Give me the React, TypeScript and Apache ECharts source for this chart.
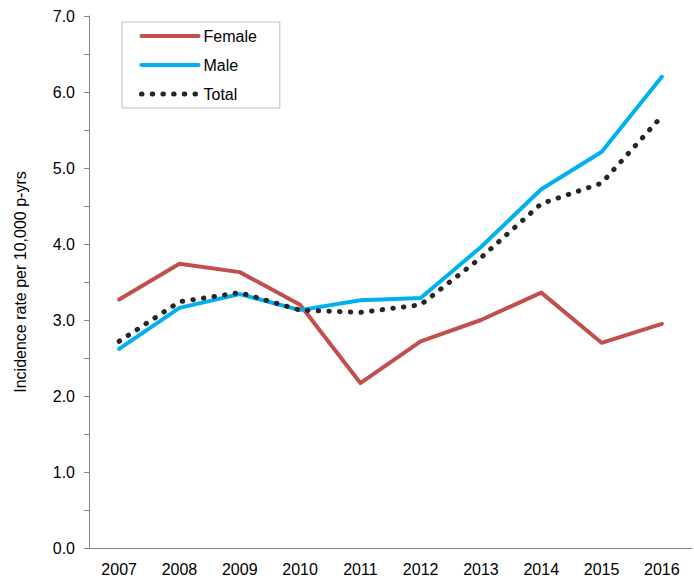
import React, { useEffect, useRef } from "react";
import * as echarts from "echarts";

const years = ["2007", "2008", "2009", "2010", "2011", "2012", "2013", "2014", "2015", "2016"];
const female = [3.27, 3.74, 3.63, 3.2, 2.17, 2.72, 3.0, 3.36, 2.7, 2.95];
const male = [2.62, 3.16, 3.34, 3.13, 3.26, 3.29, 3.96, 4.72, 5.21, 6.2];
const total = [2.72, 3.24, 3.36, 3.13, 3.1, 3.2, 3.82, 4.53, 4.8, 5.68];

const FONT = "'Liberation Sans', Arial, sans-serif";

export default function App() {
  const ref = useRef<HTMLDivElement>(null);
  useEffect(() => {
    if (!ref.current) return;
    const chart = echarts.init(ref.current, undefined, { renderer: "svg" });
    chart.setOption({
      animation: false,
      backgroundColor: "#fff",
      textStyle: { fontFamily: FONT },
      grid: { left: 89, right: 2, top: 16, bottom: 34, containLabel: false },
      legend: {
        orient: "vertical",
        left: 122,
        top: 22,
        padding: [6, 23, 6, 17],
        borderColor: "#bfbfbf",
        borderWidth: 1,
        itemWidth: 57,
        itemHeight: 14,
        itemGap: 13,
        itemStyle: { opacity: 0 },
        lineStyle: { width: "inherit" },
        textStyle: { fontFamily: FONT, fontSize: 16, color: "#000" },
        data: ["Female", "Male", "Total"],
      },
      xAxis: {
        type: "category",
        data: years,
        boundaryGap: true,
        axisLine: { lineStyle: { color: "#868686", width: 1 } },
        axisTick: { alignWithLabel: true, length: 5, lineStyle: { color: "#868686" } },
        axisLabel: { fontFamily: FONT, fontSize: 16, color: "#000", margin: 13 },
        splitLine: { show: false },
      },
      yAxis: {
        type: "value",
        min: 0,
        max: 7,
        interval: 0.5,
        name: "Incidence rate per 10,000 p-yrs",
        nameLocation: "middle",
        nameGap: 61,
        nameTextStyle: { fontFamily: FONT, fontSize: 16, color: "#000" },
        axisLine: { show: true, lineStyle: { color: "#868686", width: 1 } },
        axisTick: { show: true, length: 5, lineStyle: { color: "#868686" } },
        axisLabel: {
          fontFamily: FONT,
          fontSize: 16,
          color: "#000",
          margin: 14,
          formatter: (v: number) => (Math.abs(v - Math.round(v)) < 1e-6 ? v.toFixed(1) : ""),
        },
        splitLine: { show: false },
      },
      series: [
        {
          name: "Female",
          type: "line",
          data: female,
          symbol: "none",
          lineStyle: { color: "#C0504D", width: 4, cap: "round", join: "round" },
          itemStyle: { color: "#C0504D" },
        },
        {
          name: "Male",
          type: "line",
          data: male,
          symbol: "none",
          lineStyle: { color: "#00B0F0", width: 4, cap: "round", join: "round" },
          itemStyle: { color: "#00B0F0" },
        },
        {
          name: "Total",
          type: "line",
          data: total,
          symbol: "none",
          lineStyle: { color: "#262626", width: 5, type: [0.5, 10.2], cap: "round", join: "round" },
          itemStyle: { color: "#262626" },
        },
      ],
    });
    return () => chart.dispose();
  }, []);
  return <div ref={ref} style={{ width: 694, height: 582, position: "absolute", left: 0, top: 0 }} />;
}
